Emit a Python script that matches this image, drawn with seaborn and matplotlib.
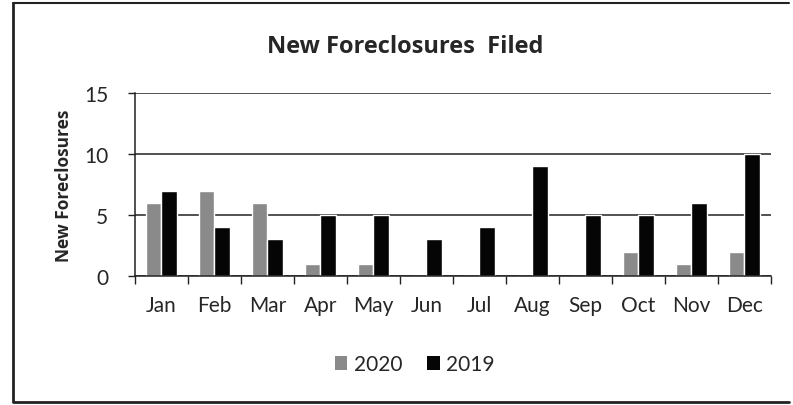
import matplotlib
matplotlib.use("Agg")
import matplotlib.pyplot as plt
import seaborn as sns
import pandas as pd
import numpy as np
from matplotlib.patches import Patch
from matplotlib.lines import Line2D

months = ["Jan", "Feb", "Mar", "Apr", "May", "Jun", "Jul", "Aug", "Sep", "Oct", "Nov", "Dec"]
vals_2020 = [6, 7, 6, 1, 1, 0, 0, 0, 0, 2, 1, 2]
vals_2019 = [7, 4, 3, 5, 5, 3, 4, 9, 5, 5, 6, 10]
series = ["2020", "2019"]
yticks = [0, 5, 10, 15]

df = pd.DataFrame({
    "Month": months * 2,
    "Value": vals_2020 + vals_2019,
    "Year": ["2020"] * 12 + ["2019"] * 12,
})

sns.set_theme(style="white")
plt.rcParams["font.family"] = ["Lato", "DejaVu Sans"]

fig = plt.figure(figsize=(7.93, 4.06), dpi=100)
ax = fig.add_axes([0.170, 0.318, 0.802, 0.450])

palette = {"2020": "#8a8a8a", "2019": "#050505"}
sns.barplot(data=df, x="Month", y="Value", hue="Year", hue_order=series,
            order=months, palette=palette, width=0.58, gap=0.0,
            saturation=1, ax=ax, legend=False)

ax.set_ylim(0, 15)
ax.set_xlim(-0.5, 11.5)
ax.set_yticks(yticks)
ax.set_yticklabels([str(t) for t in yticks], fontsize=15)
ax.yaxis.grid(True, color="#222222", linewidth=1.1)
ax.set_axisbelow(True)
ax.set_xlabel("")
ax.set_ylabel("New Foreclosures", fontsize=12.5, fontweight="bold",
              family=["Open Sans", "DejaVu Sans"], labelpad=8)
ax.tick_params(axis="x", length=0, labelsize=15, pad=14)
ax.tick_params(axis="y", length=5, width=1, color="#222222", direction="out", left=True, pad=14)

# category boundary ticks on the x axis
ax.set_xticks(np.arange(-0.5, 12, 1), minor=True)
ax.tick_params(axis="x", which="minor", length=6, width=1, color="#222222", direction="out", bottom=True)

for s in ["top", "right"]:
    ax.spines[s].set_visible(False)
for s in ["left", "bottom"]:
    ax.spines[s].set_color("#222222")
    ax.spines[s].set_linewidth(1.1)

fig.text(0.511, 0.885, "New Foreclosures  Filed", ha="center", va="center",
         fontsize=17, fontweight="bold", family=["Open Sans", "DejaVu Sans"])

handles = [Patch(facecolor=palette[s], edgecolor="none", label=s) for s in series]
fig.legend(handles=handles, loc="center", bbox_to_anchor=(0.523, 0.10), ncol=2,
           frameon=False, fontsize=15, handlelength=0.6, handleheight=0.6,
           handletextpad=0.3, columnspacing=1.2)

# outer frame (left, top, bottom)
fig.add_artist(Line2D([0.017, 0.017], [0.01, 0.99], transform=fig.transFigure, color="#222222", lw=2))
fig.add_artist(Line2D([0.017, 0.995], [0.99, 0.99], transform=fig.transFigure, color="#222222", lw=1.5))
fig.add_artist(Line2D([0.017, 0.995], [0.008, 0.008], transform=fig.transFigure, color="#222222", lw=2))

fig.savefig("out.png", dpi=100)
